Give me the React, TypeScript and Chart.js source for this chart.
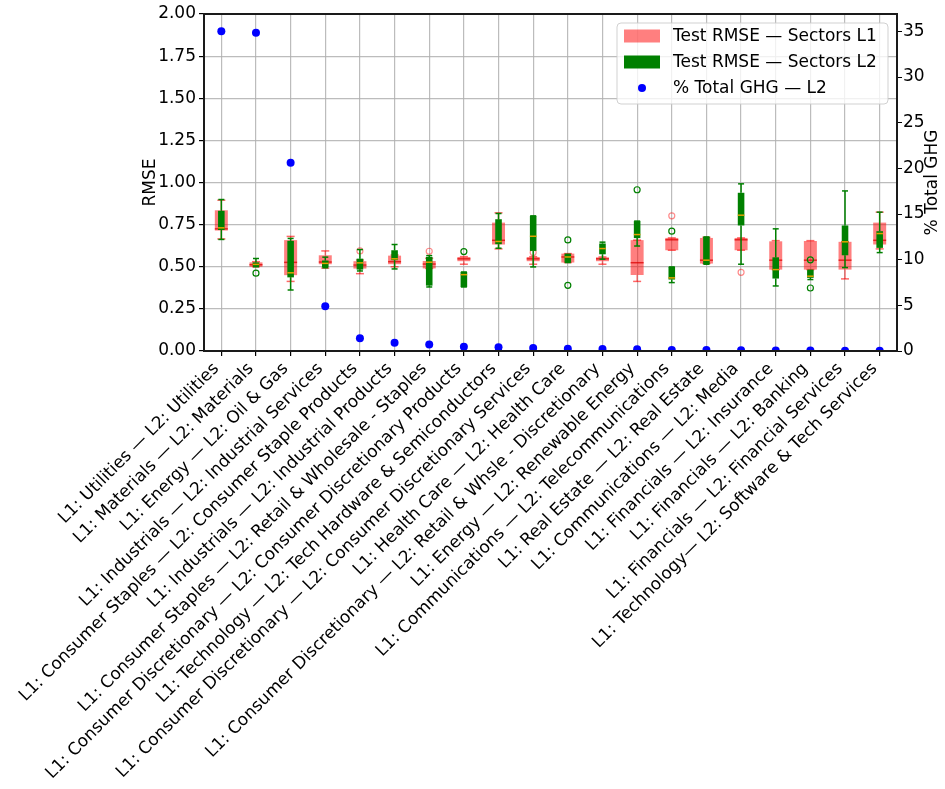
import React, { useEffect, useRef } from 'react';
import { Chart, registerables } from 'chart.js';

Chart.register(...registerables);

const categories = [
  'L1: Utilities — L2: Utilities',
  'L1: Materials — L2: Materials',
  'L1: Energy — L2: Oil & Gas',
  'L1: Industrials — L2: Industrial Services',
  'L1: Consumer Staples — L2: Consumer Staple Products',
  'L1: Industrials — L2: Industrial Products',
  'L1: Consumer Staples — L2: Retail & Wholesale - Staples',
  'L1: Consumer Discretionary — L2: Consumer Discretionary Products',
  'L1: Technology — L2: Tech Hardware & Semiconductors',
  'L1: Consumer Discretionary — L2: Consumer Discretionary Services',
  'L1: Health Care — L2: Health Care',
  'L1: Consumer Discretionary — L2: Retail & Whsle - Discretionary',
  'L1: Energy — L2: Renewable Energy',
  'L1: Communications — L2: Telecommunications',
  'L1: Real Estate — L2: Real Estate',
  'L1: Communications — L2: Media',
  'L1: Financials — L2: Insurance',
  'L1: Financials — L2: Banking',
  'L1: Financials — L2: Financial Services',
  'L1: Technology— L2: Software & Tech Services',
];

// Test RMSE — Sectors L1 (box plot statistics)
const l1Low = [0.665, 0.5, 0.413, 0.492, 0.459, 0.5, 0.49, 0.515, 0.606, 0.515, 0.525, 0.515, 0.413, 0.598, 0.519, 0.598, 0.483, 0.483, 0.428, 0.606];
const l1Q1 = [0.715, 0.5, 0.45, 0.515, 0.489, 0.515, 0.49, 0.533, 0.632, 0.533, 0.525, 0.533, 0.451, 0.598, 0.519, 0.598, 0.483, 0.483, 0.483, 0.632];
const l1Med = [0.725, 0.512, 0.526, 0.528, 0.51, 0.53, 0.516, 0.547, 0.657, 0.547, 0.558, 0.547, 0.524, 0.66, 0.539, 0.66, 0.539, 0.539, 0.539, 0.657];
const l1Q3 = [0.835, 0.526, 0.658, 0.568, 0.533, 0.566, 0.534, 0.558, 0.762, 0.558, 0.578, 0.556, 0.658, 0.671, 0.671, 0.671, 0.651, 0.653, 0.648, 0.762];
const l1High = [0.895, 0.53, 0.68, 0.594, 0.54, 0.57, 0.55, 0.56, 0.82, 0.56, 0.578, 0.558, 0.658, 0.671, 0.675, 0.671, 0.655, 0.655, 0.648, 0.824];
const l1OutlierCats = [4, 6, 9, 13, 15];
const l1OutlierValues = [0.594, 0.592, 0.584, 0.802, 0.467];

// Test RMSE — Sectors L2 (box plot statistics)
const l2Low = [0.662, 0.5, 0.362, 0.494, 0.475, 0.487, 0.38, 0.38, 0.61, 0.499, 0.525, 0.545, 0.623, 0.406, 0.515, 0.515, 0.386, 0.424, 0.495, 0.584];
const l2Q1 = [0.718, 0.504, 0.437, 0.498, 0.483, 0.539, 0.388, 0.38, 0.634, 0.594, 0.527, 0.574, 0.67, 0.424, 0.515, 0.745, 0.43, 0.434, 0.568, 0.612];
const l2Med = [0.731, 0.514, 0.464, 0.52, 0.523, 0.547, 0.527, 0.453, 0.65, 0.681, 0.558, 0.608, 0.691, 0.434, 0.539, 0.806, 0.483, 0.444, 0.648, 0.697];
const l2Q3 = [0.832, 0.526, 0.654, 0.537, 0.548, 0.598, 0.558, 0.469, 0.782, 0.802, 0.574, 0.638, 0.771, 0.499, 0.677, 0.939, 0.556, 0.479, 0.745, 0.711];
const l2High = [0.899, 0.549, 0.668, 0.557, 0.602, 0.632, 0.566, 0.469, 0.816, 0.802, 0.574, 0.646, 0.771, 0.499, 0.677, 0.992, 0.725, 0.479, 0.95, 0.824];
const l2OutlierCats = [1, 7, 10, 10, 12, 13, 17, 17];
const l2OutlierValues = [0.462, 0.59, 0.659, 0.39, 0.957, 0.711, 0.541, 0.374];

// % Total GHG — L2
const ghgShare = [35.0, 34.85, 20.6, 4.9, 1.4, 0.9, 0.7, 0.47, 0.4, 0.33, 0.25, 0.22, 0.18, 0.12, 0.1, 0.08, 0.06, 0.05, 0.04, 0.03];

const legendLabels = ['Test RMSE — Sectors L1', 'Test RMSE — Sectors L2', '% Total GHG — L2'];
const rmseAxisTitle = 'RMSE';
const ghgAxisTitle = '% Total GHG';

const FONT = 'DejaVu Sans';
const FS = 17;
const RED_FILL = 'rgba(255,0,0,0.5)';
const GREEN = '#008000';

const boxExtras = {
  id: 'boxExtras',
  afterDatasetDraw(chart: any, args: any) {
    const ds: any = chart.data.datasets[args.index];
    const st = ds.boxStats;
    if (!st) return;
    const meta = args.meta;
    const ys = chart.scales[meta.yAxisID];
    const ctx = chart.ctx;
    const line = (x1: number, y1: number, x2: number, y2: number) => {
      ctx.beginPath();
      ctx.moveTo(x1, y1);
      ctx.lineTo(x2, y2);
      ctx.stroke();
    };
    ctx.save();
    meta.data.forEach((el: any, i: number) => {
      const x = el.x;
      const half = el.width / 2;
      const pLow = ys.getPixelForValue(st.low[i]);
      const pQ1 = ys.getPixelForValue(st.q1[i]);
      const pMed = ys.getPixelForValue(st.med[i]);
      const pQ3 = ys.getPixelForValue(st.q3[i]);
      const pHigh = ys.getPixelForValue(st.high[i]);
      ctx.strokeStyle = st.whiskerColor;
      ctx.lineWidth = 1.5;
      if (Math.abs(pQ1 - pLow) > 0.5) line(x, pQ1, x, pLow);
      if (Math.abs(pQ3 - pHigh) > 0.5) line(x, pQ3, x, pHigh);
      ctx.strokeStyle = st.capColor;
      line(x - st.capHalf, pLow, x + st.capHalf, pLow);
      line(x - st.capHalf, pHigh, x + st.capHalf, pHigh);
      ctx.strokeStyle = st.medianColor;
      ctx.lineWidth = 1.5;
      line(x - half, pMed, x + half, pMed);
    });
    ctx.restore();
  },
};

const frameAndLegend = {
  id: 'frameAndLegend',
  afterDraw(chart: any) {
    const { ctx, chartArea } = chart;
    const { left, right, top, bottom } = chartArea;
    ctx.save();
    ctx.strokeStyle = '#1a1a1a';
    ctx.lineWidth = 2;
    ctx.strokeRect(left, top, right - left, bottom - top);

    // right axis title, reading bottom to top
    const y2 = chart.scales.y2;
    ctx.save();
    ctx.translate(y2.right - FS * 0.6, (top + bottom) / 2);
    ctx.rotate(-Math.PI / 2);
    ctx.fillStyle = '#000';
    ctx.font = `${FS}px "${FONT}"`;
    ctx.textAlign = 'center';
    ctx.textBaseline = 'middle';
    ctx.fillText(ghgAxisTitle, 0, 0);
    ctx.restore();

    // legend box
    const bx = right - 280;
    const by = top + 9;
    const bw = 271;
    const bh = 81;
    ctx.beginPath();
    (ctx as any).roundRect(bx, by, bw, bh, 4);
    ctx.fillStyle = 'rgba(255,255,255,0.8)';
    ctx.fill();
    ctx.strokeStyle = 'rgba(204,204,204,0.9)';
    ctx.lineWidth = 1;
    ctx.stroke();

    const rows = [by + 13, by + 39, by + 65];
    ctx.fillStyle = RED_FILL;
    ctx.fillRect(bx + 7, rows[0] - 6.5, 36, 13);
    ctx.fillStyle = GREEN;
    ctx.fillRect(bx + 7, rows[1] - 6.5, 36, 13);
    ctx.fillStyle = 'blue';
    ctx.beginPath();
    ctx.arc(bx + 25, rows[2], 4, 0, Math.PI * 2);
    ctx.fill();

    ctx.fillStyle = '#000';
    ctx.font = `${FS}px "${FONT}"`;
    ctx.textBaseline = 'middle';
    ctx.textAlign = 'left';
    legendLabels.forEach((t, i) => ctx.fillText(t, bx + 56, rows[i] + 1));
    ctx.restore();
  },
};

export default function App() {
  const ref = useRef<HTMLCanvasElement>(null);
  useEffect(() => {
    document.body.style.margin = '0';
    Chart.defaults.font.family = FONT;
    Chart.defaults.font.size = FS;
    Chart.defaults.color = '#000';

    const gridColor = 'rgba(176,176,176,0.85)';
    const chart = new Chart(ref.current as HTMLCanvasElement, {
      type: 'bar',
      data: {
        labels: categories,
        datasets: [
          {
            type: 'bar',
            label: legendLabels[0],
            data: categories.map((_, i) => [l1Q1[i], l1Q3[i]]) as any,
            backgroundColor: RED_FILL,
            borderWidth: 0,
            grouped: false,
            categoryPercentage: 1,
            barPercentage: 0.375,
            yAxisID: 'y',
            order: 5,
            boxStats: {
              low: l1Low, q1: l1Q1, med: l1Med, q3: l1Q3, high: l1High,
              whiskerColor: 'rgba(255,0,0,0.5)', capColor: 'rgba(255,0,0,0.6)',
              medianColor: 'rgba(220,0,0,0.75)', capHalf: 4,
            },
          } as any,
          {
            type: 'line',
            label: 'L1 outliers',
            data: l1OutlierCats.map((c, k) => ({ x: categories[c], y: l1OutlierValues[k] })),
            showLine: false,
            pointRadius: 3,
            pointBorderWidth: 1.2,
            pointBackgroundColor: 'rgba(0,0,0,0)',
            pointBorderColor: 'rgba(255,0,0,0.45)',
            yAxisID: 'y',
            order: 4,
          } as any,
          {
            type: 'bar',
            label: legendLabels[1],
            data: categories.map((_, i) => [l2Q1[i], l2Q3[i]]) as any,
            backgroundColor: GREEN,
            borderColor: GREEN,
            borderWidth: 0,
            grouped: false,
            categoryPercentage: 1,
            barPercentage: 0.19,
            yAxisID: 'y',
            order: 3,
            boxStats: {
              low: l2Low, q1: l2Q1, med: l2Med, q3: l2Q3, high: l2High,
              whiskerColor: GREEN, capColor: GREEN,
              medianColor: 'rgb(225,160,0)', capHalf: 3,
            },
          } as any,
          {
            type: 'line',
            label: 'L2 outliers',
            data: l2OutlierCats.map((c, k) => ({ x: categories[c], y: l2OutlierValues[k] })),
            showLine: false,
            pointRadius: 3,
            pointBorderWidth: 1.2,
            pointBackgroundColor: 'rgba(0,0,0,0)',
            pointBorderColor: GREEN,
            yAxisID: 'y',
            order: 2,
          } as any,
          {
            type: 'line',
            label: legendLabels[2],
            data: ghgShare,
            showLine: false,
            pointRadius: 4,
            pointBorderWidth: 0,
            pointBackgroundColor: 'blue',
            pointBorderColor: 'blue',
            yAxisID: 'y2',
            order: 1,
          } as any,
        ],
      },
      options: {
        animation: false,
        responsive: true,
        maintainAspectRatio: false,
        events: [],
        layout: { padding: { left: 140, right: 2, top: 14, bottom: 0 } },
        plugins: {
          legend: { display: false },
          tooltip: { enabled: false },
        },
        scales: {
          x: {
            type: 'category',
            offset: true,
            grid: {
              offset: false,
              color: gridColor,
              lineWidth: 1.2,
              tickColor: '#000',
              tickLength: 5,
            },
            border: { display: false },
            ticks: {
              autoSkip: false,
              minRotation: 45,
              maxRotation: 45,
              padding: 3,
              labelOffset: -5,
              font: { size: FS, family: FONT },
              color: '#000',
            },
            afterFit: (s: any) => {
              s.height = 438;
            },
          },
          y: {
            type: 'linear',
            position: 'left',
            min: 0,
            max: 2,
            grid: {
              color: gridColor,
              lineWidth: 1.2,
              tickColor: '#000',
              tickLength: 5,
            },
            border: { display: false },
            ticks: {
              stepSize: 0.25,
              padding: 3,
              font: { size: FS, family: FONT },
              color: '#000',
              callback: (v: any) => Number(v).toFixed(2),
            },
            title: {
              display: true,
              text: rmseAxisTitle,
              padding: 0,
              font: { size: FS, family: FONT },
              color: '#000',
            },
            afterFit: (s: any) => {
              s.width = 64;
            },
          },
          y2: {
            type: 'linear',
            position: 'right',
            min: 0,
            max: 36.9,
            grid: {
              drawOnChartArea: false,
              tickColor: '#000',
              tickLength: 5,
            },
            border: { display: false },
            ticks: {
              stepSize: 5,
              includeBounds: false,
              padding: 1,
              font: { size: FS, family: FONT },
              color: '#000',
            },
            afterFit: (s: any) => {
              s.width = 46;
            },
          },
        },
      } as any,
      plugins: [boxExtras, frameAndLegend],
    });
    return () => chart.destroy();
  }, []);

  return (
    <div style={{ position: 'absolute', left: 0, top: 0, width: 945, height: 789 }}>
      <canvas ref={ref} />
    </div>
  );
}
